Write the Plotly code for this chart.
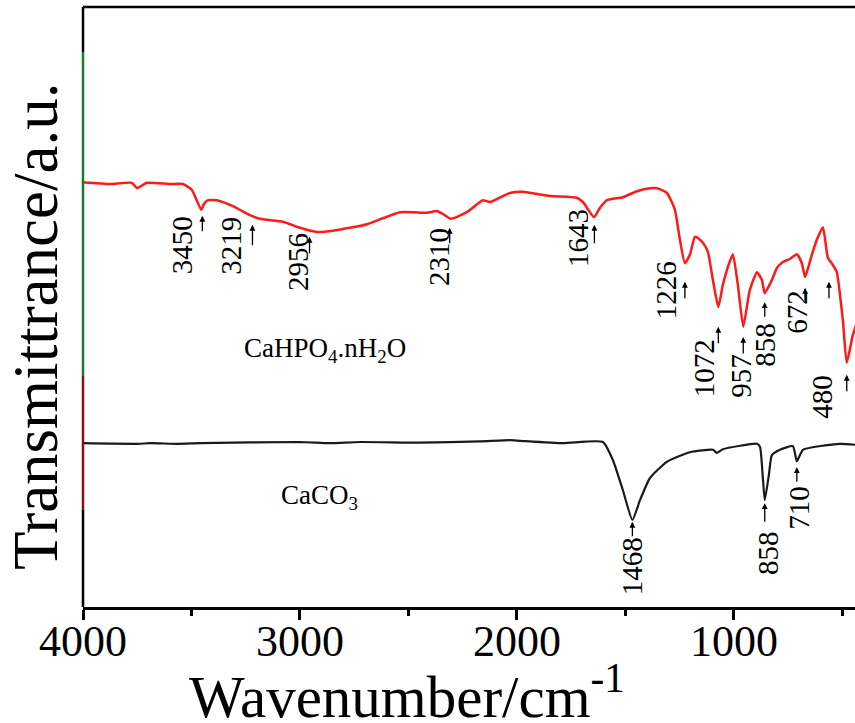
import plotly.graph_objects as go

# ---------------- data ----------------
hpo4_wavenumber = [4000, 3876, 3774, 3751, 3705, 3599, 3539, 3498, 3455, 3442, 3424, 3383, 3309, 3230,
                   3184, 3078, 3000, 2922, 2848, 2691, 2539, 2415, 2369, 2341, 2305, 2231, 2157, 2125,
                   2032, 1972, 1848, 1724, 1696, 1645, 1618, 1585, 1512, 1447, 1387, 1355, 1309, 1272,
                   1249, 1226, 1203, 1180, 1166, 1143, 1120, 1097, 1072, 1051, 1032, 1005, 982, 957,
                   927, 894, 871, 858, 825, 802, 774, 742, 710, 687, 672, 641, 618, 590, 567, 544,
                   526, 498, 480, 452, 429]
hpo4_trans = [70.8, 70.5, 70.7, 69.8, 70.7, 70.5, 70.5, 69.5, 66.2, 67.2, 67.8, 67.8, 66.8, 65.3,
              64.7, 64.2, 63.2, 62.5, 62.7, 63.8, 65.8, 65.7, 66.0, 65.5, 64.7, 65.8, 67.8, 67.5,
              69.0, 69.2, 68.5, 68.2, 67.5, 65.0, 66.5, 67.8, 68.3, 69.3, 69.8, 69.8, 69.0, 66.2,
              61.2, 57.3, 58.7, 61.7, 61.5, 60.7, 59.2, 54.5, 50.0, 53.7, 56.2, 58.8, 53.7, 46.7,
              52.8, 55.8, 54.5, 52.3, 54.5, 56.5, 57.5, 58.0, 58.8, 57.3, 55.0, 58.7, 61.2, 63.3,
              58.2, 57.0, 55.8, 47.8, 40.7, 45.3, 47.8]

caco3_wavenumber = [4000, 3747, 3691, 3562, 3461, 3000, 2862, 2724, 2447, 2171, 2032, 1986, 1788,
                    1604, 1558, 1512, 1468, 1433, 1387, 1309, 1203, 1097, 1079, 1051, 894, 880,
                    866, 858, 839, 825, 788, 728, 710, 682, 512, 429]
caco3_trans = [27.3, 27.2, 27.3, 27.2, 27.3, 27.5, 27.3, 27.5, 27.4, 27.6, 27.8, 27.7, 27.3,
               27.5, 24.5, 19.5, 14.5, 17.8, 21.5, 24.2, 25.8, 26.2, 25.7, 26.3, 27.2, 26.7,
               21.2, 17.8, 22.0, 25.3, 26.2, 26.8, 24.3, 26.2, 27.2, 27.0]

# peak markers (arrow head position) and their labels
hpo4_peaks = [3450, 3219, 2956, 2310, 1643, 1226, 1072, 957, 858, 672, 562, 480]
hpo4_peak_labels = ["3450", "3219", "2956", "2310", "1643", "1226", "1072", "957", "858", "672", "", "480"]
caco3_peaks = [1468, 858, 710]
caco3_peak_labels = ["1468", "858", "710"]

x_ticks = [4000, 3000, 2000, 1000]
x_tick_labels = ["4000", "3000", "2000", "1000"]
x_minor_ticks = [3500, 2500, 1500, 500]

# ---------------- layout helpers (positions / styles) ----------------
hpo4_arrow_head = [65.2, 63.7, 61.7, 63.2, 63.7, 54.2, 46.7, 45.0, 50.8, 53.2, 54.2, 38.7]
hpo4_arrow_len = [17, 22, 18, 17, 20, 18, 18, 18, 16, 14, 18, 18]
hpo4_label_pos = [(3544, 60.3), (3318, 60.2), (3009, 57.5), (2360, 58.3), (1719, 61.5),
                  (1313, 52.8), (1138, 39.8), (968, 38.5), (857, 43.7), (710, 49.2),
                  None, (595, 35.0)]
caco3_arrow_head = [14.2, 17.3, 23.3]
caco3_arrow_len = [16, 20, 16]
caco3_label_pos = [(1470, 6.8), (843, 9.0), (701, 16.5)]

FONT = "Liberation Serif, Times New Roman, serif"

fig = go.Figure()
fig.add_trace(go.Scatter(x=hpo4_wavenumber, y=hpo4_trans, mode="lines",
                         line=dict(color="#ff1a1a", width=2.5, shape="spline", smoothing=0.5),
                         showlegend=False, hoverinfo="skip"))
fig.add_trace(go.Scatter(x=caco3_wavenumber, y=caco3_trans, mode="lines",
                         line=dict(color="#1a1a1a", width=2.2, shape="spline", smoothing=0.5),
                         showlegend=False, hoverinfo="skip"))

annotations = []

def add_peaks(peaks, labels, heads, lens, positions):
    for p, lab, h, ln, pos in zip(peaks, labels, heads, lens, positions):
        annotations.append(dict(x=p, y=h, xref="x", yref="y", text="", showarrow=True,
                                ax=0, ay=ln, arrowhead=2, arrowsize=0.9, arrowwidth=1.3,
                                arrowcolor="black", standoff=0, startstandoff=0))
        if lab and pos is not None:
            annotations.append(dict(x=pos[0], y=pos[1], xref="x", yref="y", text=lab,
                                    showarrow=False, textangle=-90,
                                    font=dict(family=FONT, size=29, color="black"),
                                    xanchor="center", yanchor="middle"))

add_peaks(hpo4_peaks, hpo4_peak_labels, hpo4_arrow_head, hpo4_arrow_len, hpo4_label_pos)
add_peaks(caco3_peaks, caco3_peak_labels, caco3_arrow_head, caco3_arrow_len, caco3_label_pos)

annotations.append(dict(x=2885, y=42.8, xref="x", yref="y",
                        text="CaHPO<sub>4</sub>.nH<sub>2</sub>O", showarrow=False,
                        font=dict(family=FONT, size=27, color="black")))
annotations.append(dict(x=2908, y=18.3, xref="x", yref="y",
                        text="CaCO<sub>3</sub>", showarrow=False,
                        font=dict(family=FONT, size=27, color="black")))

# x tick labels, drawn on the x scale
for tv, tl in zip(x_ticks, x_tick_labels):
    annotations.append(dict(x=tv, y=-0.058, xref="x", yref="paper", text=tl,
                            showarrow=False, xanchor="center", yanchor="middle",
                            font=dict(family=FONT, size=44, color="black")))

# axis titles
annotations.append(dict(x=-0.061, y=0.468, xref="paper", yref="paper",
                        text="Transmittrance/a.u.", showarrow=False, textangle=-90,
                        font=dict(family=FONT, size=63, color="black"),
                        xanchor="center", yanchor="middle"))
annotations.append(dict(x=0.42, y=-0.142, xref="paper", yref="paper",
                        text="Wavenumber/cm<sup>-1</sup>", showarrow=False,
                        font=dict(family=FONT, size=59, color="black"),
                        xanchor="center", yanchor="middle"))

shapes = [
    dict(type="line", xref="paper", yref="paper", x0=0, x1=1, y0=1, y1=1,
         line=dict(color="black", width=2.5)),
    dict(type="line", xref="paper", yref="paper", x0=0, x1=0, y0=0.925, y1=1,
         line=dict(color="black", width=2.5)),
    dict(type="line", xref="paper", yref="paper", x0=0, x1=0, y0=0.385, y1=0.925,
         line=dict(color="#217a2a", width=2.5)),
    dict(type="line", xref="paper", yref="paper", x0=0, x1=0, y0=0.1617, y1=0.385,
         line=dict(color="#7d1416", width=2.5)),
    dict(type="line", xref="paper", yref="paper", x0=0, x1=0, y0=0, y1=0.1617,
         line=dict(color="black", width=2.5)),
]

fig.update_layout(
    width=855, height=723,
    margin=dict(l=83, r=0, t=7, b=116),
    paper_bgcolor="white", plot_bgcolor="white",
    annotations=annotations, shapes=shapes,
    xaxis=dict(range=[4000, 442], tickvals=x_ticks, showticklabels=False,
               ticks="outside", ticklen=10, tickwidth=3, tickcolor="black",
               showline=True, linecolor="black", linewidth=2.5, showgrid=False, zeroline=False,
               automargin=False,
               minor=dict(tickvals=x_minor_ticks, ticks="outside", ticklen=6,
                          tickwidth=3, tickcolor="black", showgrid=False)),
    yaxis=dict(range=[0, 100], showticklabels=False, ticks="", showgrid=False,
               zeroline=False, showline=False, automargin=False),
)

fig.write_html("out.html", config={"displayModeBar": False},
               post_script="document.body.style.margin='0';document.body.style.overflow='hidden';")
